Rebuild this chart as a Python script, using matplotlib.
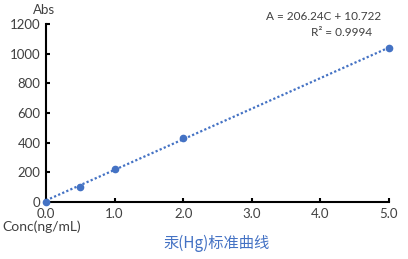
import matplotlib
matplotlib.use("Agg")
import matplotlib.pyplot as plt
import numpy as np

plt.rcParams['font.family'] = ['Lato', 'DejaVu Sans']

conc = [0.0, 0.5, 1.0, 2.0, 5.0]
absv = [0, 101, 222, 432, 1036]
slope, icpt = 206.24, 10.722
xticks = [0, 1, 2, 3, 4, 5]
yticks = [0, 200, 400, 600, 800, 1000, 1200]
blue = '#4472C4'

fig = plt.figure(figsize=(4.08, 2.59), dpi=100)
ax = fig.add_axes([0.1127, 0.220, 0.8407, 0.687])

xs = np.array([0.0, 5.0])
ax.plot(xs, slope * xs + icpt, linestyle=(0, (1, 1)), color=blue, lw=1.6)
ax.plot(conc, absv, 'o', color=blue, ms=4.5, clip_on=False, zorder=3)

ax.set_xlim(0, 5)
ax.set_ylim(0, 1200)
ax.set_xticks(xticks)
ax.set_xticklabels([f"{v:.1f}" for v in xticks])
ax.set_yticks(yticks)
for s in ['top', 'right']:
    ax.spines[s].set_visible(False)
for s in ['left', 'bottom']:
    ax.spines[s].set_linewidth(1.5)
ax.tick_params(direction='in', length=3, width=1.5, labelsize=9.5, colors='black',
               labelcolor='#404040', pad=4)

fig.text(0.108, 0.985, 'Abs', fontsize=9.5, color='#404040', ha='center', va='top')
fig.text(0.005, 0.125, 'Conc(ng/mL)', fontsize=10, color='#404040', ha='left', va='center')
fig.text(0.935, 0.935, 'A = 206.24C + 10.722', fontsize=8.5, color='#404040', ha='right', va='center')
fig.text(0.913, 0.875, 'R² = 0.9994', fontsize=8.5, color='#404040', ha='right', va='center')
fig.text(0.532, 0.06, '汞(Hg)标准曲线', fontsize=11, color=blue, ha='center', va='center',
         family=['Noto Sans CJK SC', 'DejaVu Sans'])

fig.savefig('out.png', dpi=100)
